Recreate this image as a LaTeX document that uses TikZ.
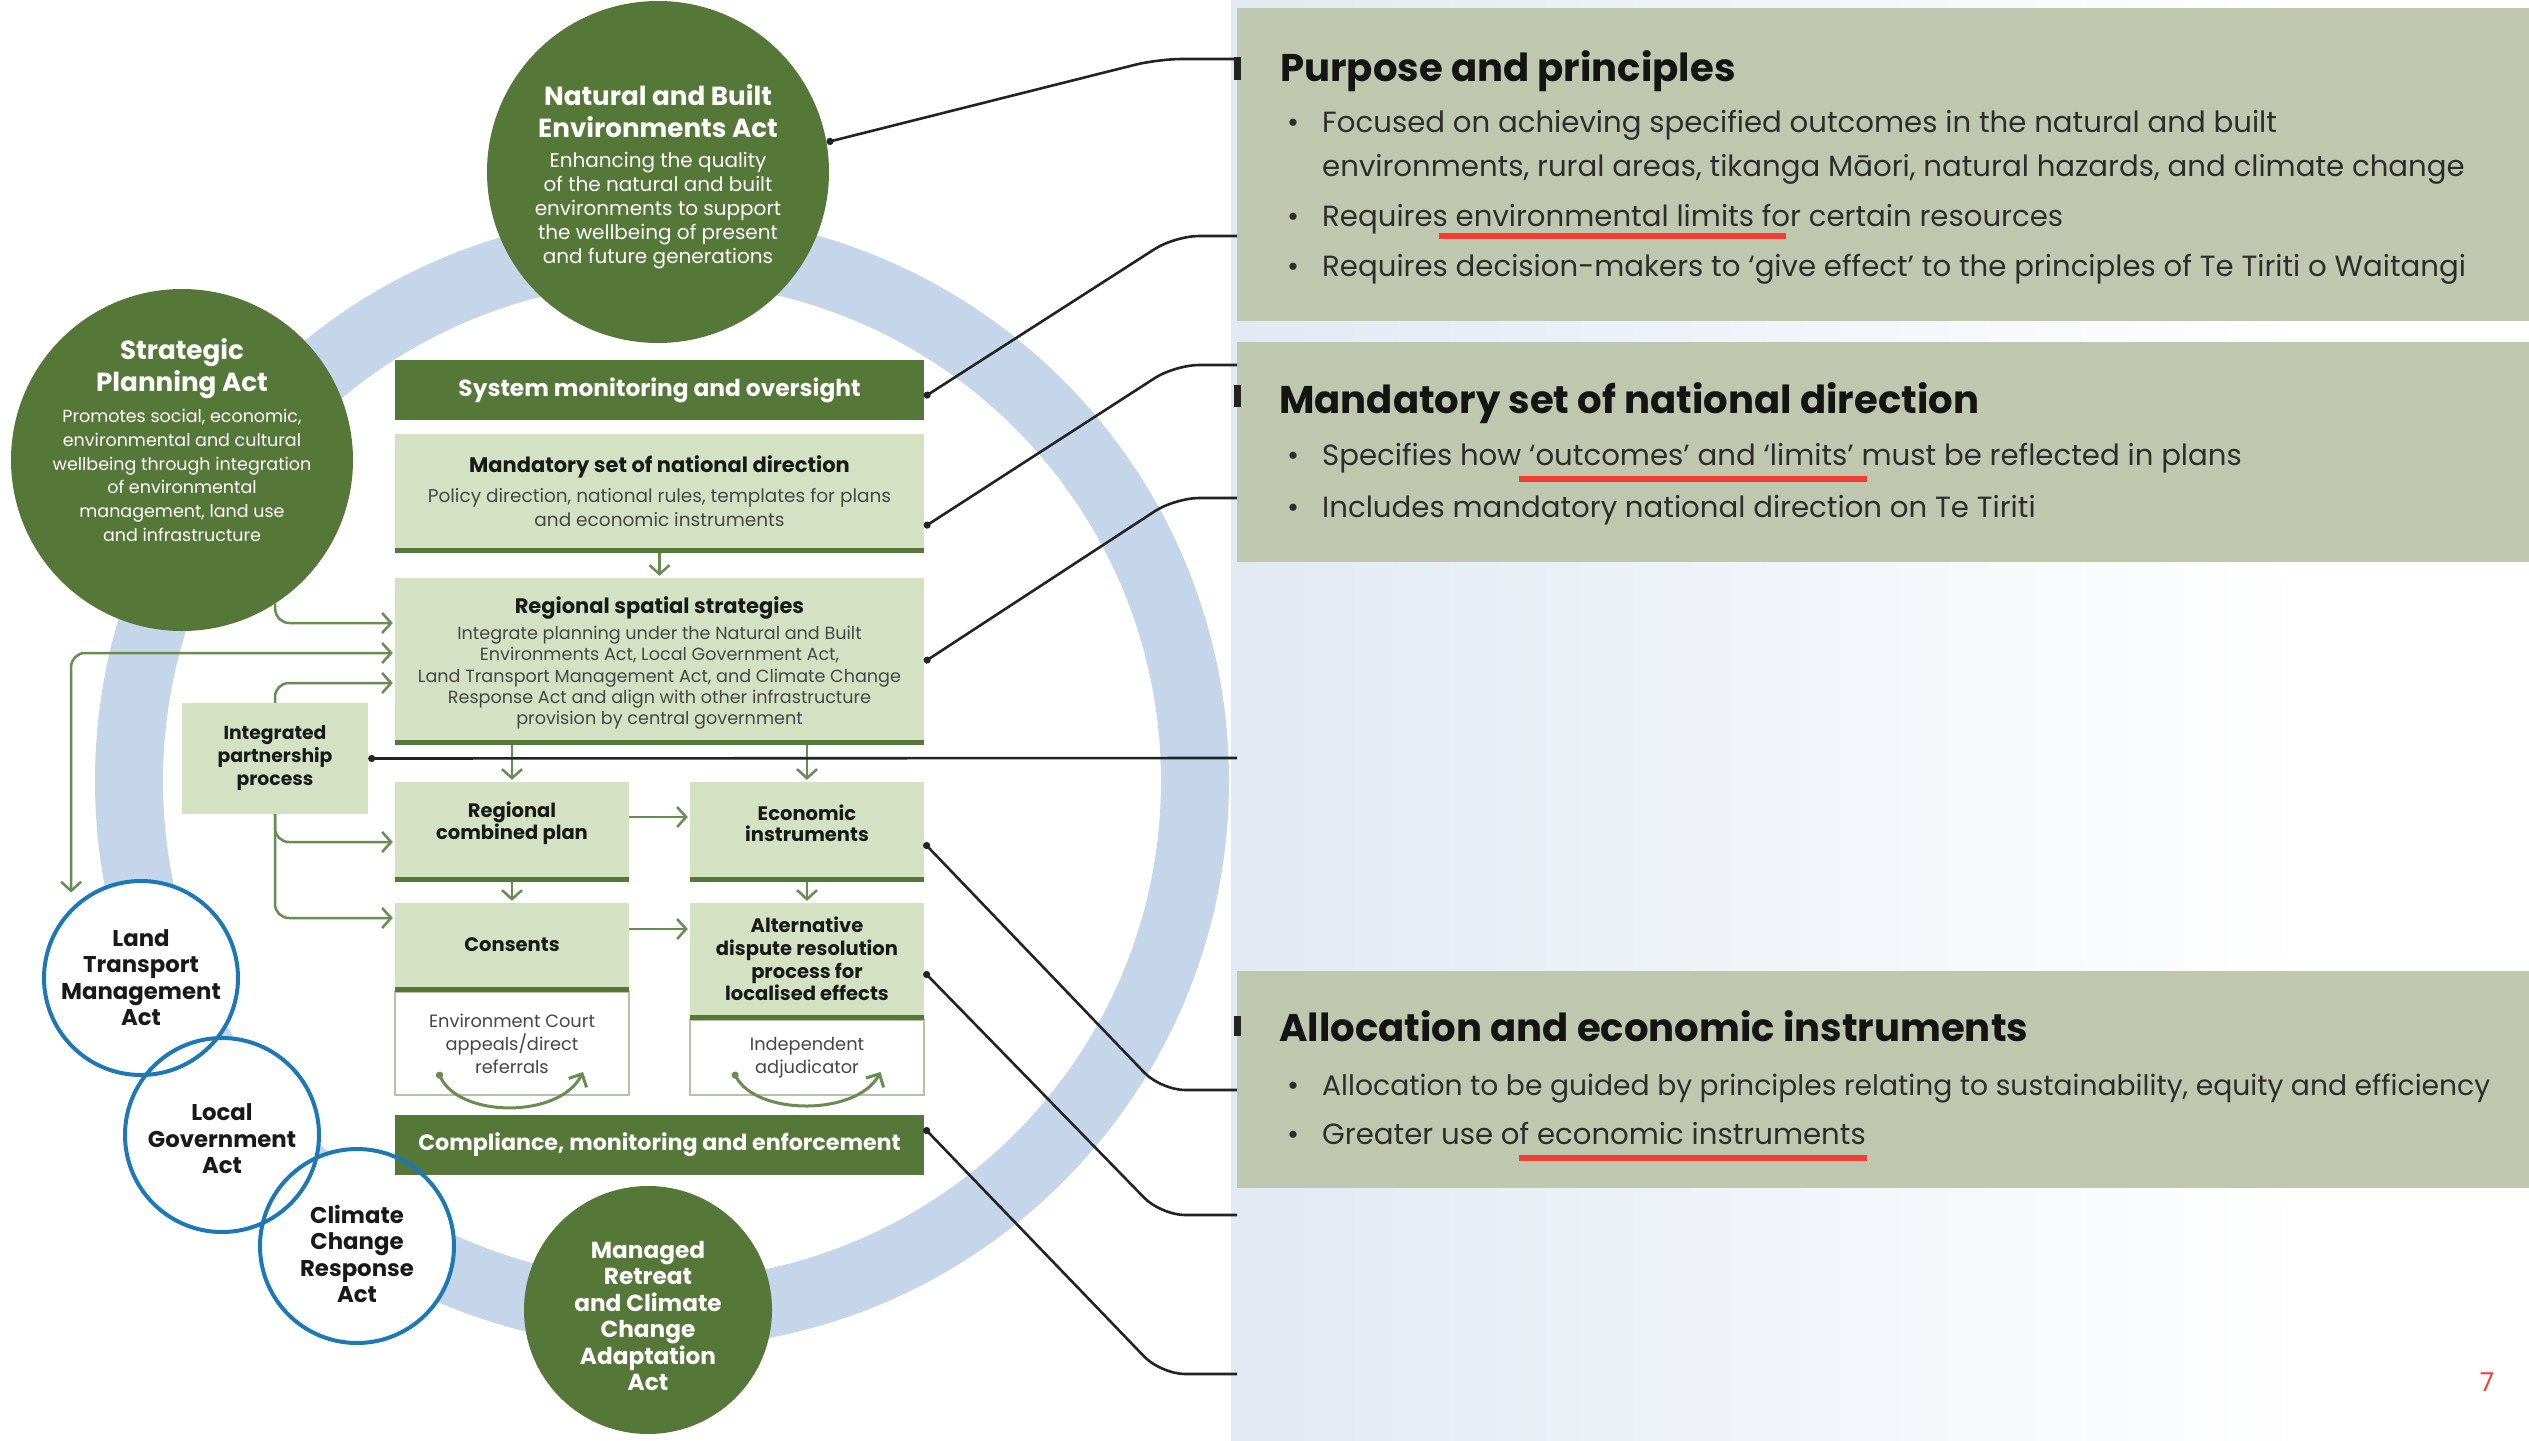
\documentclass[tikz,border=0pt]{standalone}
\usepackage{fontspec}
\setmainfont{Poppins}
\usetikzlibrary{arrows.meta,calc}
\definecolor{dg}{RGB}{85,120,57}
\definecolor{lg}{RGB}{212,226,195}
\definecolor{ag}{RGB}{104,140,82}
\definecolor{ringc}{RGB}{197,213,234}
\definecolor{bc}{RGB}{30,120,182}
\definecolor{pnl}{RGB}{191,199,175}
\definecolor{redu}{RGB}{242,62,50}
\definecolor{txg}{RGB}{70,70,70}
\definecolor{bgb}{RGB}{226,233,243}
\definecolor{wbd}{RGB}{180,195,165}
\definecolor{ptx}{RGB}{45,45,45}
\definecolor{lnk}{RGB}{35,35,35}
\newcommand{\fsz}[2]{\fontsize{#1}{#2}\selectfont}
\newcommand{\bodyl}[1]{{\fsz{18.5}{21}\mdseries\color{txg}#1}}
\newcommand{\bodyr}[1]{{\fsz{17.6}{21}\mdseries\color{txg}#1}}
\begin{document}
\begin{tikzpicture}[x=1pt,y=-1pt,
  lbox/.style={fill=lg, inner sep=0pt, align=center, text=black!90},
  btl/.style={inner sep=0pt, align=center, text=black!90},
  dbox/.style={fill=dg, inner sep=0pt, align=center, text=white, font=\fsz{22.8}{26}\bfseries},
  wbox/.style={fill=white, draw=wbd, line width=1.5pt, inner sep=0pt, align=center, text=txg, font=\fsz{17.8}{23}},
  gcirc/.style={circle, fill=dg, inner sep=0pt},
  bcirc/.style={circle, inner sep=0pt, minimum size=194pt},
  ctitle/.style={align=center, text=white, font=\fsz{26.2}{32}\bfseries},
  cbody/.style={align=center, text=white, font=\fsz{20}{24}},
  btext/.style={align=center, text=black!90, font=\fsz{22.8}{26.4}\bfseries},
  garrow/.style={draw=ag, line width=2.5pt, -{Straight Barb[length=9pt,width=20pt]}, rounded corners=14pt, shorten >=2pt},
  garrow2/.style={draw=ag, line width=2.5pt, {Straight Barb[length=9pt,width=20pt]}-{Straight Barb[length=9pt,width=20pt]}, rounded corners=14pt, shorten >=2pt},
  gcurve/.style={draw=ag, line width=3pt, {Circle[length=7pt]}-{Straight Barb[length=10pt,width=20pt]}},
  blk/.style={draw=lnk, line width=2.6pt, {Circle[length=7pt]}-, rounded corners=24pt},
  panel/.style={fill=pnl, inner sep=0pt, minimum width=1292pt},
  phead/.style={anchor=base west, inner sep=0pt, font=\fsz{38.6}{44}\bfseries, text=black!92},
  pbul/.style={anchor=base west, inner sep=0pt, font=\fsz{29.2}{34}, text=ptx},
  redline/.style={draw=redu, line width=6pt},
]
\useasboundingbox (0,0) rectangle (2529,1440);
\fill[white] (0,0) rectangle (2529,1440);
\shade[left color=bgb, right color=white] (1231,0) rectangle (2300,1440);

% ring
\draw[ringc, line width=68pt] (662,781) circle[radius=533pt];

% green circles
\node[gcirc, minimum size=342pt] (nbea) at (658,172) {};
\node[gcirc, minimum size=342pt] (spa) at (182,460) {};
\node[gcirc, minimum size=248pt] (mrca) at (648,1310) {};
% blue circles (fill)
\node[bcirc, fill=white] (ltma) at (141,978) {};
\node[bcirc, fill=white] (lga) at (222,1135) {};
\node[bcirc, fill=white] (ccra) at (357,1246) {};

% circle texts
\node[ctitle] (nbeaT) at (658,111) {Natural and Built\\Environments Act};
\node[cbody] (nbeaB) at (658,211) {Enhancing the quality\\of the natural and built\\environments to support\\the wellbeing of present\\and future generations};
\node[ctitle] (spaT) at (182,369) {Strategic\\Planning Act};
\node[cbody, font=\fsz{17.5}{23.8}] (spaB) at (182,475.5) {Promotes social, economic,\\environmental and cultural\\wellbeing through integration\\of environmental\\management, land use\\and infrastructure};
\node[ctitle, font=\fsz{23.2}{26.4}\bfseries] (mrcaT) at (648,1316) {Managed\\Retreat\\and Climate\\Change\\Adaptation\\Act};

% boxes
\node[dbox, font=\fsz{23.3}{26}\bfseries, minimum width=529pt, minimum height=60pt] (sys) at (659.5,390) {System monitoring and oversight};
\node[lbox, font=\fsz{21}{24}\bfseries, minimum width=529pt, minimum height=114pt] (mand) at (659.5,491)
  {Mandatory set of national direction\\[6pt]\bodyl{Policy direction, national rules, templates for plans}\\\bodyl{and economic instruments}};
\node[lbox, minimum width=529pt, minimum height=162pt,
  label={[btl, font=\fsz{21}{21.3}\bfseries, yshift=-4pt, name=rssT]center:{Regional spatial strategies\\[4.7pt]\bodyr{Integrate planning under the Natural and Built}\\\bodyr{Environments Act, Local Government Act,}\\\bodyr{Land Transport Management Act, and Climate Change}\\\bodyr{Response Act and align with other infrastructure}\\\bodyr{provision by central government}}}] (rss) at (659.5,659) {};
\node[lbox, font=\fsz{18.8}{23}\bfseries, minimum width=186pt, minimum height=111pt] (ipp) at (275,758.5) {Integrated\\partnership\\process};
\node[lbox, minimum width=234pt, minimum height=95pt,
  label={[btl, font=\fsz{19.5}{21.5}\bfseries, yshift=6pt, name=rcpT]center:{Regional\\combined plan}}] (rcp) at (512,829.5) {};
\node[lbox, minimum width=234pt, minimum height=95pt,
  label={[btl, font=\fsz{19.5}{21.5}\bfseries, yshift=6pt, name=eiT]center:{Economic\\instruments}}] (ei) at (807,829.5) {};
\node[lbox, font=\fsz{19.5}{22.7}\bfseries, minimum width=234pt, minimum height=84pt] (cons) at (512,945) {Consents};
\node[lbox, font=\fsz{19.5}{22.7}\bfseries, minimum width=234pt, minimum height=112pt] (adr) at (807,959) {Alternative\\dispute resolution\\process for\\localised effects};
\node[wbox, minimum width=234pt, minimum height=103pt] (consw) at (512,1043.5) {Environment Court\\appeals/direct\\referrals};
\node[wbox, minimum width=234pt, minimum height=75pt] (adrw) at (807,1057.5) {Independent\\adjudicator};
\node[dbox, font=\fsz{22.2}{26}\bfseries, minimum width=529pt, minimum height=60pt] (comp) at (659.5,1145) {Compliance, monitoring and enforcement};

% green bottom lines
\foreach \b in {mand,rss,rcp,ei,cons,adr}
  \fill[dg] (\b.south west) rectangle ([yshift=-5pt]\b.south east);

% blue circle outlines and texts
\foreach \c in {ltma,lga,ccra}
  \draw[bc, line width=4pt] (\c.center) circle[radius=97pt];
\node[btext] (ltmaT) at (141,977.5) {Land\\Transport\\Management\\Act};
\node[btext] (lgaT) at (222,1139) {Local\\Government\\Act};
\node[btext] (ccraT) at (357,1254) {Climate\\Change\\Response\\Act};

% green connectors
\draw[garrow] ([yshift=-5pt]mand.south) -- (rss.north);
\draw[garrow] ([yshift=37pt]rcp.north) -- (rcp.north);
\draw[garrow] ([yshift=37pt]ei.north) -- (ei.north);
\draw[garrow] ([yshift=12.5pt]rcp.east) -- ([yshift=12.5pt]ei.west);
\draw[garrow] ([yshift=-5pt]rcp.south) -- (cons.north);
\draw[garrow] ([yshift=-5pt]ei.south) -- (adr.north);
\draw[garrow] ([yshift=16pt]cons.east) -- ([yshift=30pt]adr.west);
\draw[garrow] (spa.-57) |- ([yshift=36pt]rss.west);
\draw[garrow2] ([yshift=18pt]ltma.136) |- ([yshift=6pt]rss.west);
\draw[garrow] (ipp.north) |- ([yshift=-24pt]rss.west);
\draw[garrow] (ipp.south) |- ([yshift=-12.5pt]rcp.west);
\draw[garrow] (ipp.south) |- ([yshift=27pt]cons.west);
\draw[gcurve] ($(consw.center)+(-74,28.5)$) .. controls ($(consw.center)+(-52,75)$) and ($(consw.center)+(48,75)$) .. ($(consw.center)+(71,28.5)$);
\draw[gcurve] ($(adrw.center)+(-73.5,14.5)$) .. controls ($(adrw.center)+(-50,58.5)$) and ($(adrw.center)+(50,58.5)$) .. ($(adrw.center)+(73.5,14.5)$);

% right panels
\node[panel, minimum height=313pt] (p1) at (1883,164.5) {};
\node[panel, minimum height=220pt] (p2) at (1883,452) {};
\node[panel, minimum height=217pt] (p3) at (1883,1079.5) {};

% connector ends
\coordinate (c1) at (1237,59);
\coordinate (c2) at (1237,236);
\coordinate (c3) at (1237,365);
\coordinate (c4) at (1237,498);
\coordinate (c5) at (1237,758);
\coordinate (c6) at (1237,1090);
\coordinate (c7) at (1237,1215);
\coordinate (c8) at (1237,1374);

% black connectors
\draw[blk] (nbea.10) -- (1158,59) -- (c1);
\draw[blk] ([yshift=-7pt]sys.east) -- (1175,236) -- (c2);
\draw[blk] ([yshift=-36pt]mand.east) -- (1175,365) -- (c3);
\draw[blk] ([yshift=-3pt]rss.east) -- (1175,498) -- (c4);
\draw[blk, rounded corners=0pt] (ipp.east) -- (c5);
\draw[blk] ([yshift=-13.5pt]ei.east) -- (1161,1090) -- (c6);
\draw[blk] ([yshift=-13pt]adr.east) -- (1161,1215) -- (c7);
\draw[blk] ([yshift=17pt]comp.east) -- (1161,1374) -- (c8);
\fill[lnk] (1234,57) rectangle (1241,80);
\fill[lnk] (1234,385) rectangle (1241,407);
\fill[lnk] (1234,1016) rectangle (1241,1036);

% panel texts
\node[phead] (h1) at (1280,81) {Purpose and principles};
\node[pbul] (b1a) at (1287,132) {•};
\node[pbul] (t1a) at (1322,132) {Focused on achieving specified outcomes in the natural and built};
\node[pbul] (t1b) at (1322,176) {environments, rural areas, tikanga Māori, natural hazards, and climate change};
\node[pbul] (b1c) at (1287,226) {•};
\node[pbul] (t1c) at (1322,226) {Requires environmental limits for certain resources};
\node[pbul] (b1d) at (1287,276) {•};
\node[pbul] (t1d) at (1322,276) {Requires decision-makers to ‘give effect’ to the principles of Te Tiriti o Waitangi};
\draw[redline] (1439,236) -- (1786,236);

\node[phead] (h2) at (1279,413) {Mandatory set of national direction};
\node[pbul] (b2a) at (1287,465) {•};
\node[pbul] (t2a) at (1322,465) {Specifies how ‘outcomes’ and ‘limits’ must be reflected in plans};
\node[pbul] (b2b) at (1287,517) {•};
\node[pbul] (t2b) at (1322,517) {Includes mandatory national direction on Te Tiriti};
\draw[redline] (1519,479) -- (1867,479);

\node[phead] (h3) at (1279,1041) {Allocation and economic instruments};
\node[pbul] (b3a) at (1287,1095) {•};
\node[pbul, font=\fsz{28.2}{34}] (t3a) at (1322,1095) {Allocation to be guided by principles relating to sustainability, equity and efficiency};
\node[pbul] (b3b) at (1287,1144) {•};
\node[pbul] (t3b) at (1322,1144) {Greater use of economic instruments};
\draw[redline] (1519,1158) -- (1867,1158);

\node[anchor=base, inner sep=0pt, text=redu, font=\fsz{26}{30}] (pg) at (2487,1391) {7};
\end{tikzpicture}
\end{document}
